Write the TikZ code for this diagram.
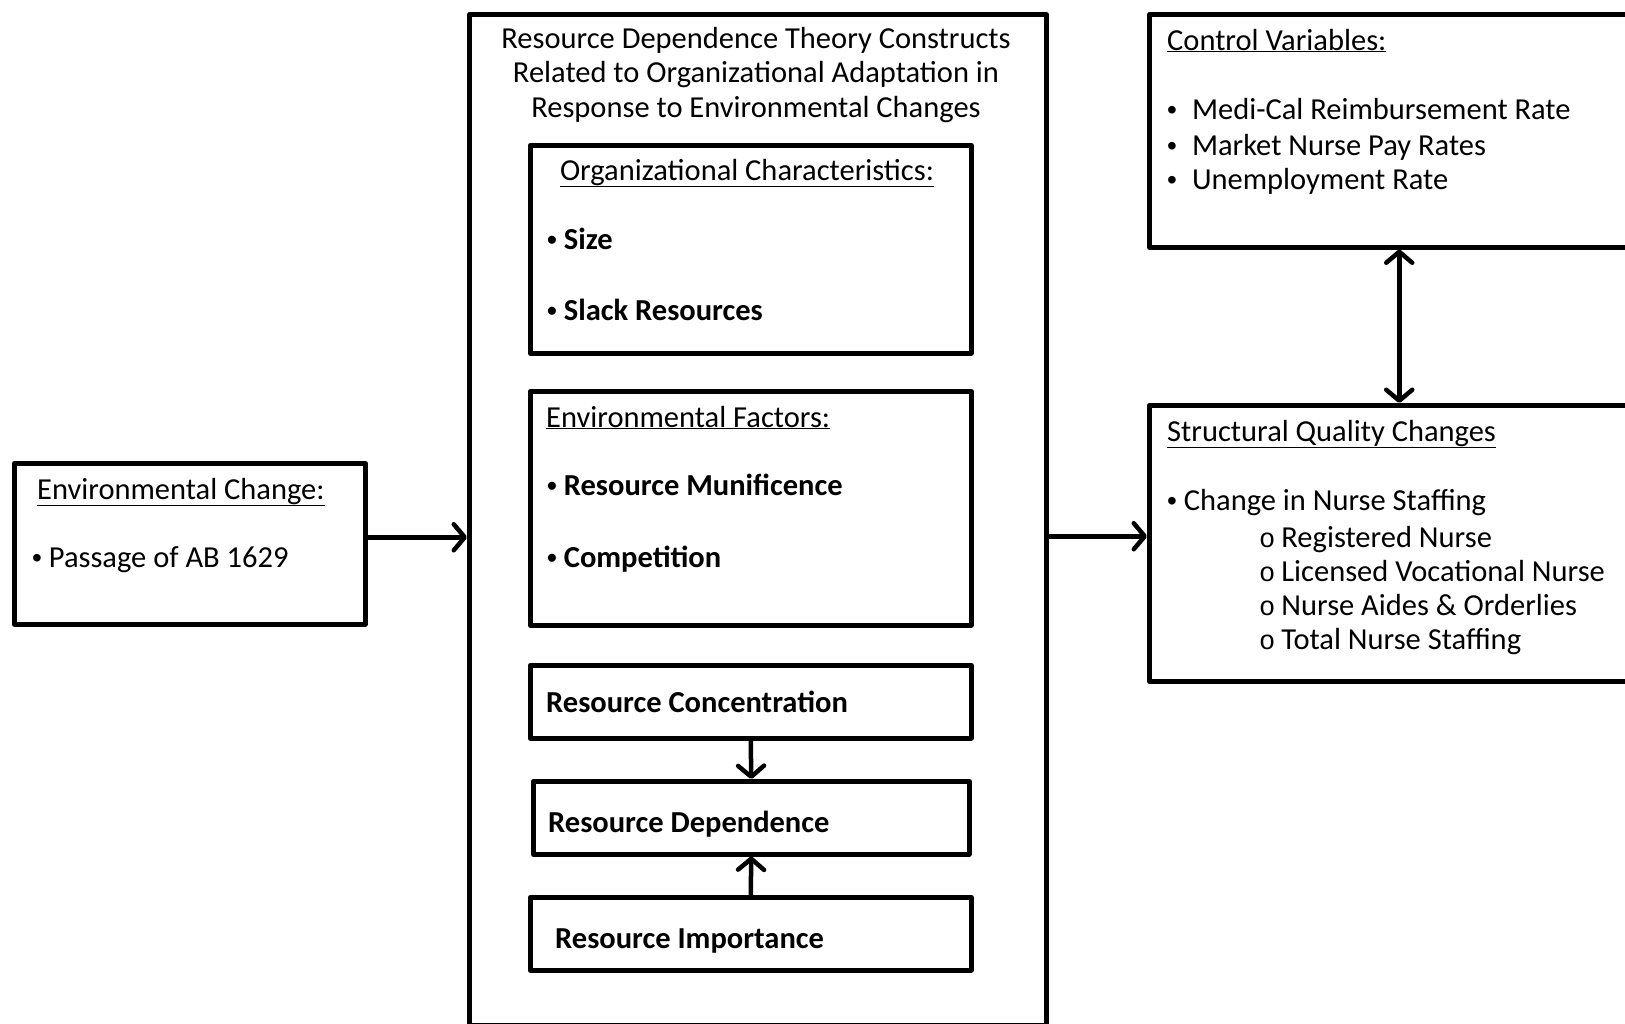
\documentclass[tikz,border=0pt]{standalone}
\usepackage{fontspec}
\setmainfont{Carlito}
\newfontfamily\monof{Liberation Mono}
\newfontfamily\arialf{Liberation Sans}
\usetikzlibrary{arrows.meta}
\tikzset{
  box/.style={draw=black, line width=4.5pt, rectangle, anchor=north west, inner sep=0pt, line join=round},
  txt/.style={anchor=base west, inner sep=0pt, font=\fontsize{30.5}{34}\selectfont},
  btxt/.style={anchor=base west, inner sep=0pt, font=\fontsize{30.5}{34}\selectfont\bfseries},
  arr/.style={line width=4.5pt, -{Straight Barb[length=11pt,width=26pt,line width=4.5pt,round]}},
  darr/.style={line width=4.5pt, {Straight Barb[length=11pt,width=26pt,line width=4.5pt,round]}-{Straight Barb[length=11pt,width=26pt,line width=4.5pt,round]}}
}
\newcommand{\bul}{{\arialf\fontsize{28}{34}\selectfont •}}
\newcommand{\subb}{{\monof\fontsize{27}{30}\selectfont o}\hspace{6pt}}
\begin{document}
\begin{tikzpicture}[x=1pt,y=-1pt]
\useasboundingbox (0,0) rectangle (1625,1023);
\clip (0,0) rectangle (1625,1023);
\fill[white] (0,0) rectangle (1625,1023);

% boxes
\node[box, minimum width=351pt, minimum height=161pt] (env) at (12,461) {};
\node[box, minimum width=577pt, minimum height=1011pt] (big) at (467,12) {};
\node[box, minimum width=441pt, minimum height=208pt] (org) at (528,143) {};
\node[box, minimum width=441pt, minimum height=234pt] (envf) at (528,389) {};
\node[box, minimum width=441pt, minimum height=73pt] (conc) at (528,663) {};
\node[box, minimum width=436pt, minimum height=73pt] (dep) at (531,779) {};
\node[box, minimum width=441pt, minimum height=73pt] (imp) at (528,895) {};
\node[box, minimum width=500pt, minimum height=233pt] (ctrl) at (1147,12) {};
\node[box, minimum width=500pt, minimum height=276pt] (sq) at (1147,403) {};

% texts: environmental change
\node[txt] (envT) at (37,499) {\underline{Environmental Change:}};
\node[txt] (envB) at (32,567) {\bul\ Passage of AB 1629};

% big box title
\node[anchor=center, align=center, inner sep=0pt, font=\fontsize{30.5}{34.5}\selectfont] (bigT) at (756,75) {Resource Dependence Theory Constructs\\Related to Organizational Adaptation in\\Response to Environmental Changes};

% org characteristics
\node[anchor=base, inner sep=0pt, font=\fontsize{30.5}{34}\selectfont] (orgT) at (747,180) {\underline{Organizational Characteristics:}};
\node[btxt] (orgA) at (547,249) {\bul\ Size};
\node[btxt] (orgB) at (547,320) {\bul\ Slack Resources};

% environmental factors
\node[txt] (envfT) at (546,427) {\underline{Environmental Factors:}};
\node[btxt] (envfA) at (547,495) {\bul\ Resource Munificence};
\node[btxt] (envfB) at (547,567) {\bul\ Competition};

\node[btxt] (concT) at (546,712) {Resource Concentration};
\node[btxt] (depT) at (548,832) {Resource Dependence};
\node[btxt] (impT) at (555,948) {Resource Importance};

% control variables
\node[txt] (ctrlT) at (1167,50) {\underline{Control Variables:}};
\node[txt] (ctrlA) at (1167,119) {\bul\hspace{15pt}Medi-Cal Reimbursement Rate};
\node[txt] (ctrlB) at (1167,155) {\bul\hspace{15pt}Market Nurse Pay Rates};
\node[txt] (ctrlC) at (1167,189) {\bul\hspace{15pt}Unemployment Rate};

% structural quality changes
\node[txt] (sqT) at (1167,441) {\underline{Structural Quality Changes}};
\node[txt] (sqA) at (1167,510) {\bul\ Change in Nurse Staffing};
\node[txt] (sqB) at (1259,547) {\subb Registered Nurse};
\node[txt] (sqC) at (1259,581) {\subb Licensed Vocational Nurse};
\node[txt] (sqD) at (1259,615) {\subb Nurse Aides \& Orderlies};
\node[txt] (sqE) at (1259,649) {\subb Total Nurse Staffing};

% connectors
\coordinate (envOut) at ([yshift=6.5pt]env.east);
\draw[arr] (envOut) -- (big.west |- envOut);
\coordinate (sqIn) at ([yshift=7pt]sq.west);
\draw[arr] (big.east |- sqIn) -- (sqIn);
\draw[darr] (ctrl.south) -- (sq.north);
\draw[arr] (conc.south) -- (dep.north);
\draw[arr] (imp.north) -- (dep.south);
\end{tikzpicture}
\end{document}
